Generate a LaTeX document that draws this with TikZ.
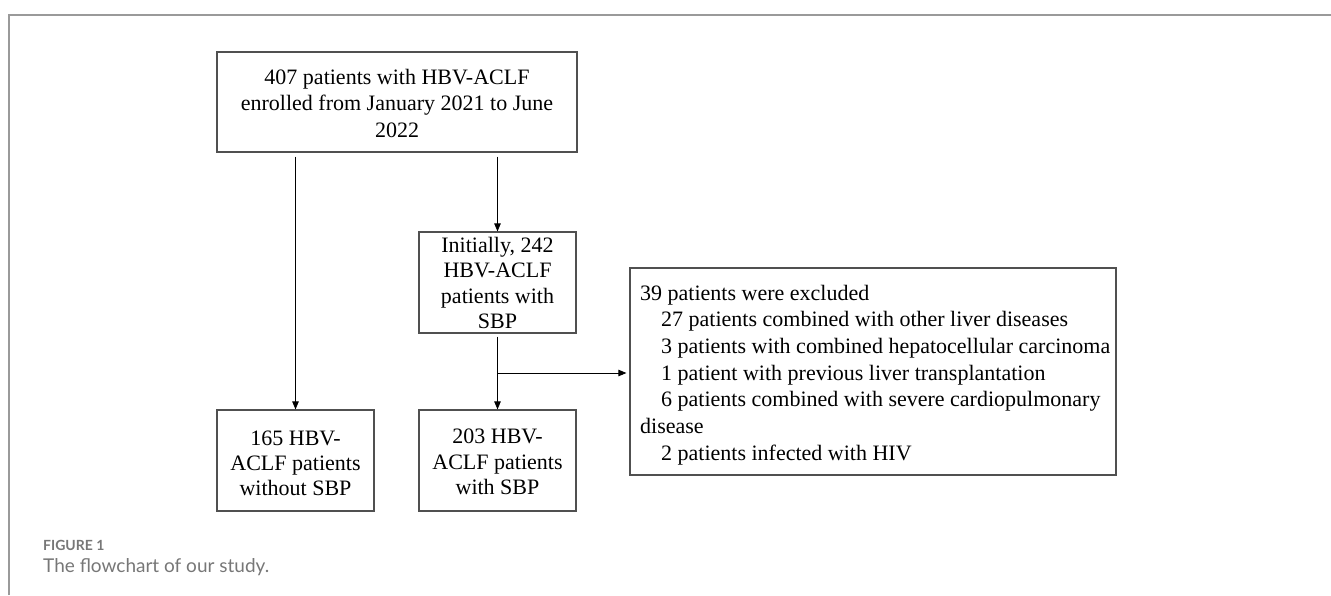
\documentclass[tikz,border=0pt]{standalone}
\usepackage{fontspec}
\setmainfont{Liberation Serif}
\newfontfamily\capfont{Lato}
\usetikzlibrary{arrows.meta}
\definecolor{boxline}{HTML}{505050}
\definecolor{framegray}{HTML}{9A9A9A}
\definecolor{capgray}{HTML}{777777}
\tikzset{
  box/.style={draw=boxline, line width=1.2pt, inner sep=0pt},
  txt/.style={inner sep=0pt, align=center, font=\fontsize{22}{26.5}\selectfont},
  ltxt/.style={inner sep=0pt, align=left, font=\fontsize{22}{26.7}\selectfont},
  arr/.style={draw=black, line width=0.9pt, -{Triangle[length=8pt,width=6.5pt]}},
}
\newcommand{\ind}{\hspace*{21pt}}
\begin{document}
\begin{tikzpicture}[x=1pt,y=-1pt]
\useasboundingbox (0,0) rectangle (1331,595);
% frame
\draw[framegray, line width=1.8pt] (9,595) -- (9,15) -- (1331,15);
% boxes
\node[box, minimum width=360, minimum height=100] (top) at (397,102) {};
\node[txt] (topt) at (397,103) {407 patients with HBV-ACLF\\enrolled from January 2021 to June\\2022};
\node[box, minimum width=157, minimum height=101] (mid) at (497.5,282.5) {};
\node[txt, font=\fontsize{22}{25.5}\selectfont] (midt) at (497.5,283) {Initially, 242\\HBV-ACLF\\patients with\\SBP};
\node[box, minimum width=157, minimum height=101] (left) at (295.5,460.5) {};
\node[txt, font=\fontsize{22}{25}\selectfont] (leftt) at (295.5,463) {165 HBV-\\ACLF patients\\without SBP};
\node[box, minimum width=157, minimum height=101] (bmid) at (497.5,460.5) {};
\node[txt, font=\fontsize{22}{25.5}\selectfont] (bmidt) at (497.5,462) {203 HBV-\\ACLF patients\\with SBP};
\node[box, minimum width=486, minimum height=207] (excl) at (873,371.5) {};
\node[ltxt, anchor=west] (exclt) at (640,375) {39 patients were excluded\\
\ind 27 patients combined with other liver diseases\\
\ind 3 patients with combined hepatocellular carcinoma\\
\ind 1 patient with previous liver transplantation\\
\ind 6 patients combined with severe cardiopulmonary\\
disease\\
\ind 2 patients infected with HIV};
% connectors
\draw[arr, shorten <=4pt] (top.south -| left.north) -- (left.north);
\draw[arr, shorten <=4pt] (top.south -| mid.north) -- (mid.north);
\draw[arr, shorten <=3pt] (mid.south) -- (bmid.north);
\coordinate (br) at (497.5,373);
\draw[arr, shorten >=3pt] (br) -- (excl.west |- br);
% caption
\node[anchor=west, inner sep=0pt, text=capgray, font=\capfont\bfseries\fontsize{14}{16}\selectfont] (fig) at (43,545) {FIGURE 1};
\node[anchor=west, inner sep=0pt, text=capgray, font=\capfont\fontsize{19}{22}\selectfont] (cap) at (43,567) {The flowchart of our study.};
\end{tikzpicture}
\end{document}
